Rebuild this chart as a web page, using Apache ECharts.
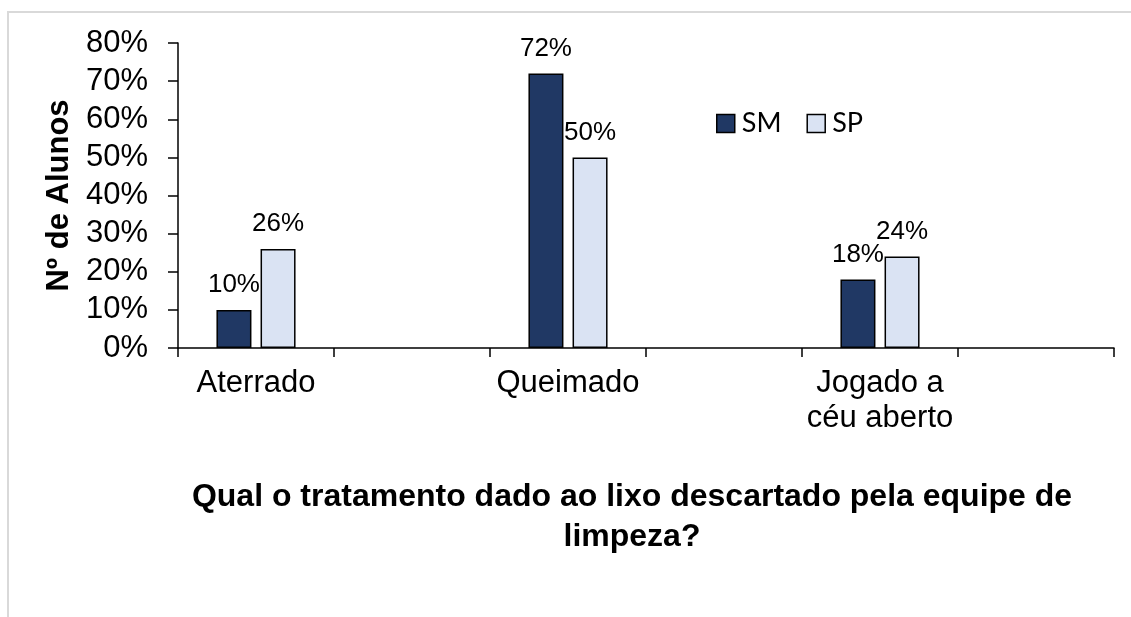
<!DOCTYPE html>
<html>
<head>
<meta charset="utf-8">
<script src="https://cdn.jsdelivr.net/npm/echarts@6/dist/echarts.min.js"></script>
<style>
  html, body { margin: 0; padding: 0; background: #fff; }
  #chart { width: 1131px; height: 617px; }
</style>
</head>
<body>
<div id="chart"></div>
<script>
// categories (empty slots keep the spacing of the original sheet)
const categories = ['Aterrado', '', 'Queimado', '', 'Jogado a\ncéu aberto', '']
const smValues = [10, null, 72, null, 18, null]
const spValues = [26, null, 50, null, 24, null]
const seriesNames = ['SM', 'SP']
const yTicks = [0, 10, 20, 30, 40, 50, 60, 70, 80]

const xTitle = 'Qual o tratamento dado ao lixo descartado pela equipe de\nlimpeza?'
const yTitle = 'Nº de Alunos'

const font = "'Liberation Sans', Arial, sans-serif"
const navy = '#203864'
const pale = '#dae3f3'

const chart = echarts.init(document.getElementById('chart'), null, { renderer: 'canvas' })

const barLabel = {
  show: true,
  position: 'top',
  distance: 12,
  color: '#000',
  fontSize: 26,
  fontFamily: font,
  formatter: '{c}%'
}

chart.setOption({
  animation: false,
  backgroundColor: '#fff',
  graphic: [{
    type: 'rect',
    z: -10,
    shape: { x: 8, y: 12, width: 1300, height: 800 },
    style: { fill: 'none', stroke: '#d9d9d9', lineWidth: 2 }
  }],
  title: {
    text: xTitle,
    left: 627,
    top: 472,
    textAlign: 'center',
    textStyle: {
      fontFamily: font, fontSize: 32, fontWeight: 'bold',
      color: '#000', lineHeight: 40
    }
  },
  legend: {
    data: seriesNames,
    left: 711,
    top: 105,
    icon: 'rect',
    itemWidth: 18,
    itemHeight: 18,
    itemGap: 25,
    itemStyle: { borderColor: '#000', borderWidth: 1.5 },
    textStyle: { fontFamily: 'Lato, sans-serif', fontSize: 27, color: '#000', padding: [0, 0, 0, 2] }
  },
  grid: { left: 178, right: 17, top: 43, bottom: 269 },
  xAxis: {
    type: 'category',
    data: categories,
    axisLine: { lineStyle: { color: '#000', width: 1.5 } },
    axisTick: { show: true, length: 9, lineStyle: { color: '#000', width: 1.5 } },
    axisLabel: {
      interval: 0, margin: 18, color: '#000',
      fontSize: 31, fontFamily: font, lineHeight: 35
    }
  },
  yAxis: {
    type: 'value',
    min: yTicks[0],
    max: yTicks[yTicks.length - 1],
    interval: 10,
    name: yTitle,
    nameLocation: 'middle',
    nameGap: 100,
    nameRotate: 90,
    nameTextStyle: { fontFamily: font, fontSize: 31, fontWeight: 'bold', color: '#000' },
    axisLine: { show: true, lineStyle: { color: '#000', width: 1.5 } },
    axisTick: { show: true, length: 10, lineStyle: { color: '#000', width: 1.5 } },
    splitLine: { show: false },
    axisLabel: {
      margin: 30, color: '#000', fontSize: 31, fontFamily: font,
      formatter: '{value}%'
    }
  },
  series: [
    {
      name: seriesNames[0],
      type: 'bar',
      data: smValues,
      barWidth: 35,
      barGap: '26%',
      itemStyle: { color: navy, borderColor: '#000', borderWidth: 1.5 },
      label: barLabel
    },
    {
      name: seriesNames[1],
      type: 'bar',
      data: spValues,
      barWidth: 35,
      itemStyle: { color: pale, borderColor: '#000', borderWidth: 1.5 },
      label: barLabel
    }
  ]
})

window.addEventListener('resize', () => chart.resize())
</script>
</body>
</html>
